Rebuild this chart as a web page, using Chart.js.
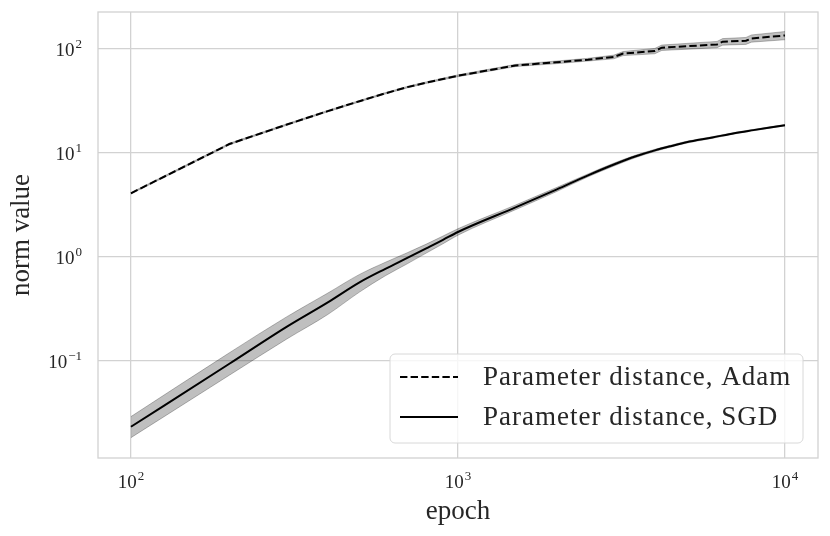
<!DOCTYPE html>
<html>
<head>
<meta charset="utf-8">
<script src="https://cdn.jsdelivr.net/npm/chart.js@4.4.1/dist/chart.umd.min.js"></script>
<style>
  html, body { margin: 0; padding: 0; background: #fff; }
  #wrap { width: 830px; height: 536px; }
</style>
</head>
<body>
<div id="wrap"><canvas id="normchart"></canvas></div>
<script>
// values (log-log)
const adamEpochs = [100, 200, 300, 400, 500, 600, 700, 800, 900, 1000, 1500, 2000, 2500, 3000, 3200, 4000, 4200, 6200, 6450, 7600, 7900, 10000];
const adamNorm = [4.1, 12.2, 18.8, 25.3, 31.5, 37.5, 43, 47.5, 51.5, 55.3, 69.5, 74.5, 79, 84, 90.5, 95.7, 103, 110.7, 117.6, 120, 126.5, 135];
const adamLow = [4.04, 12.0, 18.5, 24.9, 31.0, 36.9, 42.3, 46.7, 50.6, 54.2, 67.8, 72.3, 76.6, 80.6, 86.4, 90.0, 96.8, 103, 109, 110.8, 116.4, 122.8];
const adamHigh = [4.16, 12.4, 19.1, 25.7, 32.0, 38.1, 43.7, 48.3, 52.4, 56.4, 71.2, 76.7, 81.4, 87.4, 94.6, 101.4, 109.2, 118.4, 126, 129.2, 136.6, 147.2];

const sgdEpochs = [100, 200, 300, 400, 500, 600, 700, 800, 900, 1000, 1500, 2000, 2500, 3000, 3500, 4000, 4500, 5000, 6000, 7000, 8000, 9000, 10000];
const sgdNorm = [0.0233, 0.094, 0.214, 0.366, 0.57, 0.77, 0.98, 1.21, 1.46, 1.74, 3.0, 4.45, 6.1, 7.75, 9.3, 10.6, 11.7, 12.7, 14.1, 15.5, 16.6, 17.6, 18.5];
const sgdLow = [0.0183, 0.073, 0.163, 0.28, 0.46, 0.66, 0.86, 1.09, 1.34, 1.62, 2.85, 4.25, 5.9, 7.5, 9.05, 10.35, 11.45, 12.45, 13.85, 15.25, 16.35, 17.35, 18.25];
const sgdHigh = [0.0292, 0.12, 0.267, 0.45, 0.68, 0.89, 1.1, 1.33, 1.59, 1.87, 3.16, 4.65, 6.3, 8.0, 9.55, 10.85, 11.95, 12.95, 14.35, 15.75, 16.85, 17.85, 18.75];

const seriesLabels = ['Parameter distance, Adam', 'Parameter distance, SGD'];
const xTicks = [100, 1000, 10000];
const xTickExp = ['2', '3', '4'];
const yTicks = [0.1, 1, 10, 100];
const yTickExp = ['−1', '0', '1', '2'];

const serif = "'Liberation Serif', 'DejaVu Serif', serif";
const gridGrey = '#d2d2d2';
const bandGrey = 'rgba(0, 0, 0, 0.25)';
const textColor = '#262626';

function pts(xs, ys) {
  return xs.map((x, i) => ({ x: x, y: ys[i] }));
}

// spines on all four sides
const framePlugin = {
  id: 'frame',
  beforeDatasetsDraw(chart) {
    const { ctx, chartArea: a } = chart;
    ctx.save();
    ctx.strokeStyle = gridGrey;
    ctx.lineWidth = 1.3;
    ctx.strokeRect(a.left, a.top, a.right - a.left, a.bottom - a.top);
    ctx.restore();
  }
};

// "10" with a raised exponent, like matplotlib's log formatter
function drawPower(ctx, exp, x, y, align) {
  ctx.font = '19px ' + serif;
  const baseW = ctx.measureText('10').width;
  ctx.font = '13px ' + serif;
  const expW = ctx.measureText(exp).width;
  const total = baseW + 1 + expW;
  let left = x;
  if (align === 'center') left = x - total / 2;
  if (align === 'right') left = x - total;
  ctx.textAlign = 'left';
  ctx.textBaseline = 'alphabetic';
  ctx.font = '19px ' + serif;
  ctx.fillText('10', left, y);
  ctx.font = '13px ' + serif;
  ctx.fillText(exp, left + baseW + 1, y - 8);
}

const powerTicks = {
  id: 'powerTicks',
  afterDraw(chart) {
    const { ctx, chartArea: a } = chart;
    const xs = chart.scales.x, ys = chart.scales.y;
    ctx.save();
    ctx.fillStyle = textColor;
    xTicks.forEach((v, i) => drawPower(ctx, xTickExp[i], xs.getPixelForValue(v), a.bottom + 30, 'center'));
    yTicks.forEach((v, i) => drawPower(ctx, yTickExp[i], a.left - 16, ys.getPixelForValue(v) + 7, 'right'));
    ctx.restore();
  }
};

// matplotlib-style legend box, lower right inside the axes
const boxLegend = {
  id: 'boxLegend',
  afterDraw(chart) {
    const { ctx, chartArea: a } = chart;
    const w = 413, h = 89;
    const x0 = a.right - 15 - w, y0 = a.bottom - 15 - h;
    ctx.save();
    ctx.beginPath();
    ctx.roundRect(x0, y0, w, h, 5);
    ctx.fillStyle = 'rgba(255, 255, 255, 0.8)';
    ctx.fill();
    ctx.strokeStyle = '#d8d8d8';
    ctx.lineWidth = 1;
    ctx.stroke();

    const entries = chart.data.datasets.filter(d => d.label);
    entries.forEach((d, i) => {
      const y = y0 + 23 + i * 40;
      ctx.beginPath();
      ctx.setLineDash(d.borderDash || []);
      ctx.strokeStyle = d.borderColor;
      ctx.lineWidth = d.borderWidth;
      ctx.moveTo(x0 + 10, y);
      ctx.lineTo(x0 + 68, y);
      ctx.stroke();
      ctx.setLineDash([]);
      ctx.fillStyle = textColor;
      ctx.font = '27px ' + serif;
      ctx.letterSpacing = '1px';
      ctx.textBaseline = 'middle';
      ctx.textAlign = 'left';
      ctx.fillText(d.label, x0 + 93, y + 1);
      ctx.letterSpacing = '0px';
    });
    ctx.restore();
  }
};

const bandStyle = {
  borderColor: bandGrey,
  borderWidth: 1,
  pointRadius: 0
};

const config = {
  type: 'line',
  data: {
    datasets: [
      {
        label: seriesLabels[0],
        data: pts(adamEpochs, adamNorm),
        borderColor: '#000',
        borderWidth: 2,
        borderDash: [7.4, 3.2],
        pointRadius: 0,
        fill: false
      },
      {
        label: seriesLabels[1],
        data: pts(sgdEpochs, sgdNorm),
        borderColor: '#000',
        borderWidth: 2,
        pointRadius: 0,
        cubicInterpolationMode: 'monotone',
        fill: false
      },
      { ...bandStyle, data: pts(adamEpochs, adamHigh), backgroundColor: bandGrey, fill: '+1' },
      { ...bandStyle, data: pts(adamEpochs, adamLow), fill: false },
      { ...bandStyle, data: pts(sgdEpochs, sgdHigh), backgroundColor: bandGrey, cubicInterpolationMode: 'monotone', fill: '+1' },
      { ...bandStyle, data: pts(sgdEpochs, sgdLow), cubicInterpolationMode: 'monotone', fill: false }
    ]
  },
  options: {
    responsive: true,
    maintainAspectRatio: false,
    animation: false,
    layout: { padding: { top: 12, right: 12, left: 0, bottom: 0 } },
    plugins: {
      legend: { display: false },
      tooltip: { enabled: false }
    },
    scales: {
      x: {
        type: 'logarithmic',
        min: 79.3,
        max: 12620,
        afterBuildTicks: s => { s.ticks = xTicks.map(v => ({ value: v })); },
        afterFit: s => { s.height = 78; s.paddingLeft = 0; s.paddingRight = 0; },
        ticks: { display: false },
        grid: { color: gridGrey, lineWidth: 1.3, drawTicks: false },
        border: { display: false },
        title: {
          display: true,
          text: 'epoch',
          color: textColor,
          font: { family: serif, size: 27 },
          padding: { top: 0, bottom: 8 }
        }
      },
      y: {
        type: 'logarithmic',
        min: 0.01167,
        max: 227,
        afterBuildTicks: s => { s.ticks = yTicks.map(v => ({ value: v })); },
        afterFit: s => { s.width = 98; s.paddingTop = 0; s.paddingBottom = 0; },
        ticks: { display: false },
        grid: { color: gridGrey, lineWidth: 1.3, drawTicks: false },
        border: { display: false },
        title: {
          display: true,
          text: 'norm value',
          color: textColor,
          font: { family: serif, size: 27 },
          padding: { top: 6, bottom: 0 }
        }
      }
    }
  },
  plugins: [framePlugin, powerTicks, boxLegend]
};

const normChart = new Chart(document.getElementById('normchart'), config);
</script>
</body>
</html>
